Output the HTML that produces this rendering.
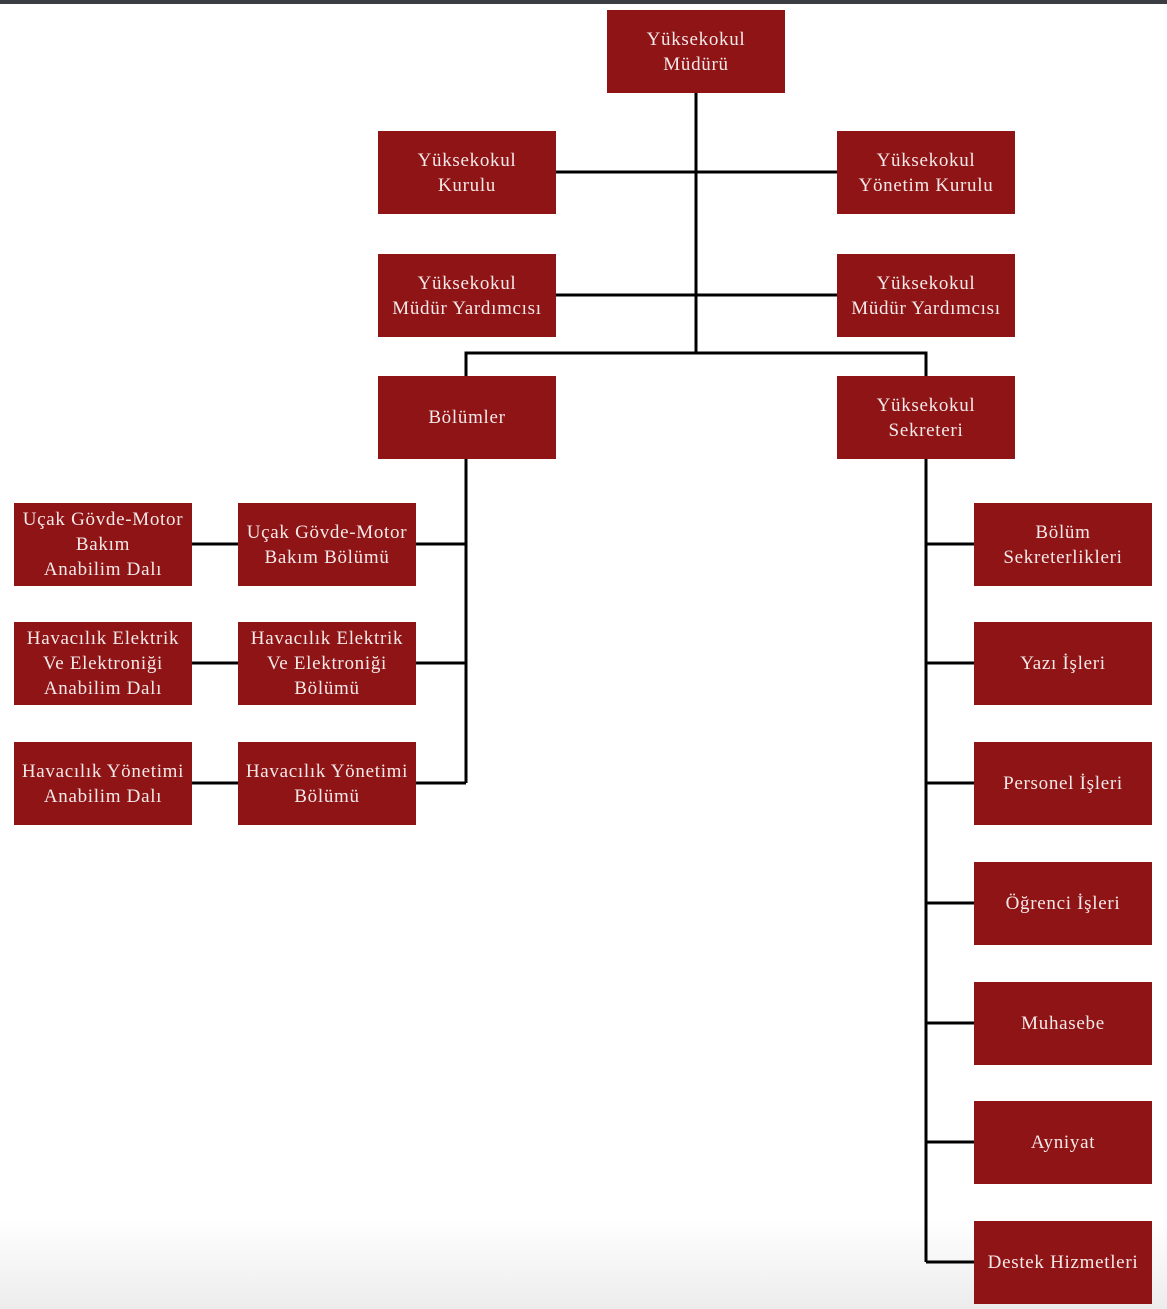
<!DOCTYPE html>
<html><head><meta charset="utf-8"><style>
body{margin:0;width:1167px;height:1309px;position:relative;background:#fff;overflow:hidden;font-family:"Liberation Serif",serif}
.top{position:absolute;left:0;top:0;width:1167px;height:4px;background:#3a3d42}
.bot{position:absolute;left:0;top:1220px;width:1167px;height:89px;background:linear-gradient(#fff,#ececec)}
.b{position:absolute;width:178px;height:83px;background:#8f1416;color:#f4e8e8;font-size:19px;letter-spacing:0.7px;line-height:25px;display:flex;align-items:center;justify-content:center;text-align:center;box-sizing:border-box;white-space:nowrap}
svg{position:absolute;left:0;top:0}
</style></head><body>
<div class="top"></div><div class="bot"></div>
<svg width="1167" height="1309"><g stroke="#000" stroke-width="3" fill="none">
<path d="M696 93V353M556 172H837M556 295H837M466 376V353H926V376"/>
<path d="M466 459V783M416 544H466M416 663H466M416 783H466M192 544H238M192 663H238M192 783H238"/>
<path d="M926 459V1262M926 544H974M926 663H974M926 783H974M926 903H974M926 1023H974M926 1142H974M926 1262H974"/>
</g></svg>
<div class="b" style="left:607px;top:10px">Yüksekokul<br>Müdürü</div>
<div class="b" style="left:378px;top:131px">Yüksekokul<br>Kurulu</div>
<div class="b" style="left:837px;top:131px">Yüksekokul<br>Yönetim Kurulu</div>
<div class="b" style="left:378px;top:254px">Yüksekokul<br>Müdür Yardımcısı</div>
<div class="b" style="left:837px;top:254px">Yüksekokul<br>Müdür Yardımcısı</div>
<div class="b" style="left:378px;top:376px">Bölümler</div>
<div class="b" style="left:837px;top:376px">Yüksekokul<br>Sekreteri</div>
<div class="b" style="left:14px;top:503px">Uçak Gövde-Motor<br>Bakım<br>Anabilim Dalı</div>
<div class="b" style="left:238px;top:503px">Uçak Gövde-Motor<br>Bakım Bölümü</div>
<div class="b" style="left:14px;top:622px">Havacılık Elektrik<br>Ve Elektroniği<br>Anabilim Dalı</div>
<div class="b" style="left:238px;top:622px">Havacılık Elektrik<br>Ve Elektroniği<br>Bölümü</div>
<div class="b" style="left:14px;top:742px">Havacılık Yönetimi<br>Anabilim Dalı</div>
<div class="b" style="left:238px;top:742px">Havacılık Yönetimi<br>Bölümü</div>
<div class="b" style="left:974px;top:503px">Bölüm<br>Sekreterlikleri</div>
<div class="b" style="left:974px;top:622px">Yazı İşleri</div>
<div class="b" style="left:974px;top:742px">Personel İşleri</div>
<div class="b" style="left:974px;top:862px">Öğrenci İşleri</div>
<div class="b" style="left:974px;top:982px">Muhasebe</div>
<div class="b" style="left:974px;top:1101px">Ayniyat</div>
<div class="b" style="left:974px;top:1221px">Destek Hizmetleri</div>
</body></html>
